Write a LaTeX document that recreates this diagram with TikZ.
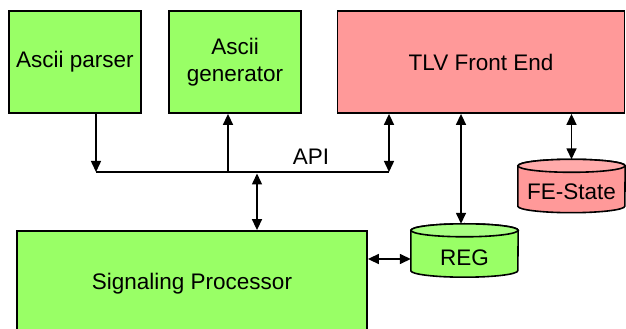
\documentclass[tikz,border=0pt]{standalone}
\usepackage{fontspec}
\setmainfont{Liberation Sans}
\usetikzlibrary{arrows.meta,calc}

\definecolor{boxgreen}{RGB}{153,255,102}
\definecolor{topgreen}{RGB}{168,255,130}
\definecolor{boxred}{RGB}{255,153,153}
\definecolor{topred}{RGB}{255,170,170}

% drum-shaped store drawn around an invisible node: name, body colour, lid colour
\newcommand\drumstore[3]{%
  \path[fill=#2,draw=black,line width=1.6pt]
    ($(#1.north west)+(0,-6.5)$) -- ($(#1.south west)+(0,6.5)$)
    arc[start angle=180,end angle=360,x radius=53.5pt,y radius=6.5pt]
    -- ($(#1.north east)+(0,-6.5)$)
    arc[start angle=0,end angle=180,x radius=53.5pt,y radius=6.5pt] -- cycle;
  \draw[fill=#3,line width=1.6pt] ($(#1.north)+(0,-6.5)$)
    ellipse[x radius=53.5pt,y radius=6.5pt];
}

\tikzset{
  block/.style={draw=black,line width=1.8pt,inner sep=0pt,align=center,
    font=\fontsize{22.5}{27}\selectfont},
  store/.style={inner sep=0pt,minimum width=107pt,minimum height=53pt,
    font=\fontsize{22.5}{27}\selectfont},
  label/.style={font=\fontsize{22.5}{27}\selectfont},
  link/.style={line width=1.5pt},
  onearrow/.style={link,-{Triangle[length=11pt,width=10pt]}},
  twoarrow/.style={link,{Triangle[length=11pt,width=10pt]}-{Triangle[length=11pt,width=10pt]}},
}

\begin{document}
\begin{tikzpicture}[x=1pt,y=1pt]
  \useasboundingbox (0,0) rectangle (626,329);
  \clip (0,0) rectangle (626,329);
  \fill[white] (0,0) rectangle (626,329);

  % processing blocks
  \node[block,fill=boxgreen,minimum width=132pt,minimum height=102pt] (parser) at (75,267) {Ascii parser};
  \node[block,fill=boxgreen,minimum width=132pt,minimum height=102pt] (gen) at (235,267) {Ascii\\generator};
  \node[block,fill=boxred,minimum width=287pt,minimum height=102pt] (tlv) at (481,267) {TLV Front End};
  \node[block,fill=boxgreen,minimum width=350pt,minimum height=106pt] (sp) at (192,45) {};
  \node[label] (sptext) at (192,45) {Signaling Processor};

  % stores
  \node[store] (reg) at (464.5,78.5) {};
  \drumstore{reg}{boxgreen}{topgreen}
  \node[label] (regtext) at (464.5,71) {REG};
  \node[store] (fes) at (571.5,143) {};
  \drumstore{fes}{boxred}{topred}
  \node[label] (festext) at (571.5,137) {FE-State};

  % API bus
  \coordinate (busL) at (96,157);
  \coordinate (busG) at (228,157);
  \coordinate (busS) at (257,157);
  \coordinate (busR) at (389,157);
  \draw[link] (busL) -- (busR);
  \node[label] (api) at (311,172) {API};

  % connectors
  \coordinate (regtap) at (461,0);
  \coordinate (sptap) at (0,70);
  \draw[onearrow] (busL |- parser.south) -- (busL);
  \draw[onearrow] (busG) -- (busG |- gen.south);
  \draw[twoarrow] (busR |- tlv.south) -- (busR);
  \draw[twoarrow] ($(busS)+(0,-1.5)$) -- (busS |- sp.north);
  \draw[twoarrow] (regtap |- tlv.south) -- (regtap |- reg.north);
  \draw[twoarrow] (fes.north) -- (fes.north |- tlv.south);
  \draw[twoarrow] (sp.east |- sptap) -- (reg.west |- sptap);
\end{tikzpicture}
\end{document}
